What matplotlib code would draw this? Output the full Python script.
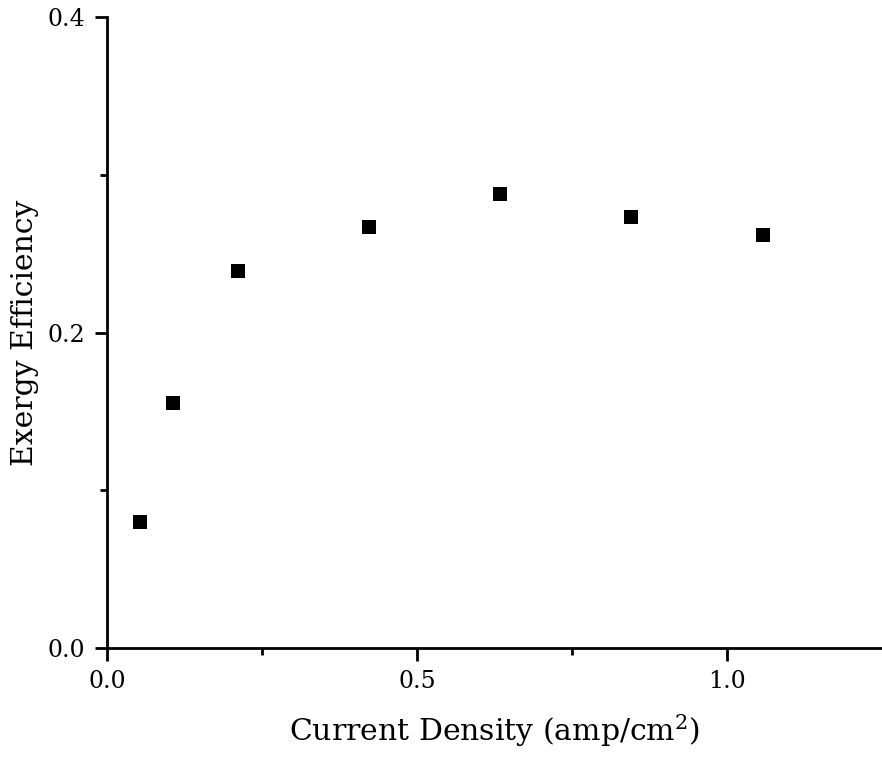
import numpy as np
import matplotlib
matplotlib.use('Agg')
import matplotlib.pyplot as plt
from matplotlib.ticker import MultipleLocator

# current density (amp/cm^2) and exergy efficiency
current_density = [0.053, 0.106, 0.211, 0.423, 0.634, 0.845, 1.057]
exergy_eff = [0.080, 0.155, 0.239, 0.267, 0.288, 0.273, 0.262]

plt.rcParams['font.family'] = ['DejaVu Serif']
plt.rcParams['mathtext.fontset'] = 'dejavuserif'

fig = plt.figure(figsize=(8.82, 7.57), dpi=100)
ax = fig.add_axes([107 / 882, 1 - 648 / 757, 1 - 107 / 882, (648 - 17) / 757])

ax.scatter(current_density, exergy_eff, marker='s', s=100, color='black',
           linewidths=0, clip_on=False, zorder=3)

ax.set_xlim(0, 1.249)
ax.set_ylim(0, 0.4)
ax.xaxis.set_major_locator(MultipleLocator(0.5))
ax.xaxis.set_minor_locator(MultipleLocator(0.25))
ax.yaxis.set_major_locator(MultipleLocator(0.2))
ax.yaxis.set_minor_locator(MultipleLocator(0.1))
ax.xaxis.set_major_formatter(plt.FormatStrFormatter('%.1f'))
ax.yaxis.set_major_formatter(plt.FormatStrFormatter('%.1f'))

for side in ['top', 'right']:
    ax.spines[side].set_visible(False)
for side in ['left', 'bottom']:
    ax.spines[side].set_linewidth(2)

ax.tick_params(which='major', direction='out', length=9, width=2,
               labelsize=17, pad=7)
ax.tick_params(which='minor', direction='out', length=5, width=2)

ax.set_xlabel('Current Density (amp/cm$^2$)', fontsize=21.5, labelpad=14)
ax.set_ylabel('Exergy Efficiency', fontsize=21.5, labelpad=6)

fig.savefig('out.png', dpi=100)
